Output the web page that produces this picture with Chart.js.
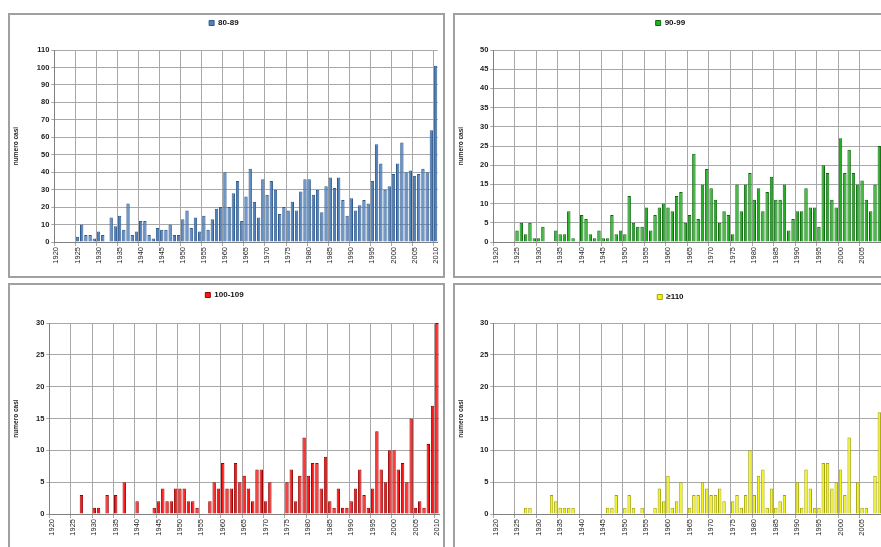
<!DOCTYPE html>
<html>
<head>
<meta charset="utf-8">
<script src="https://cdn.jsdelivr.net/npm/chart.js@4.4.1/dist/chart.umd.min.js"></script>
<style>
  html, body { margin: 0; padding: 0; background: #fff; width: 881px; height: 547px; overflow: hidden; }
  .panel { position: absolute; border: 2px solid #a0a0a0; box-sizing: border-box; background: #fff; }
  .panel canvas { display: block; }
</style>
</head>
<body>
<div class="panel" style="left:8px;top:13px;width:437px;height:265px"><canvas id="c80" width="433" height="261"></canvas></div>
<div class="panel" style="left:453px;top:13px;width:440px;height:265px"><canvas id="c90" width="436" height="261"></canvas></div>
<div class="panel" style="left:8px;top:283px;width:437px;height:268px"><canvas id="c100" width="433" height="264"></canvas></div>
<div class="panel" style="left:453px;top:283px;width:440px;height:268px"><canvas id="c110" width="436" height="264"></canvas></div>
<script>
var years = [1920, 1921, 1922, 1923, 1924, 1925, 1926, 1927, 1928, 1929,
             1930, 1931, 1932, 1933, 1934, 1935, 1936, 1937, 1938, 1939,
             1940, 1941, 1942, 1943, 1944, 1945, 1946, 1947, 1948, 1949,
             1950, 1951, 1952, 1953, 1954, 1955, 1956, 1957, 1958, 1959,
             1960, 1961, 1962, 1963, 1964, 1965, 1966, 1967, 1968, 1969,
             1970, 1971, 1972, 1973, 1974, 1975, 1976, 1977, 1978, 1979,
             1980, 1981, 1982, 1983, 1984, 1985, 1986, 1987, 1988, 1989,
             1990, 1991, 1992, 1993, 1994, 1995, 1996, 1997, 1998, 1999,
             2000, 2001, 2002, 2003, 2004, 2005, 2006, 2007, 2008, 2009,
             2010];

// only these years get a label and a vertical grid line
var yearTicks = [1920, 1925, 1930, 1935, 1940, 1945, 1950, 1955, 1960, 1965,
                 1970, 1975, 1980, 1985, 1990, 1995, 2000, 2005, 2010];

var cases80 = [0, 0, 0, 0, 0, 3, 10, 4, 4, 2,
               6, 4, 0, 14, 9, 15, 7, 22, 4, 6,
               12, 12, 4, 2, 8, 7, 7, 10, 4, 4,
               13, 18, 8, 14, 6, 15, 7, 13, 19, 20,
               40, 20, 28, 35, 12, 26, 42, 23, 14, 36,
               27, 35, 30, 16, 20, 18, 23, 18, 29, 36,
               36, 27, 30, 17, 32, 37, 31, 37, 24, 15,
               25, 18, 21, 24, 22, 35, 56, 45, 30, 32,
               39, 45, 57, 40, 41, 38, 39, 42, 40, 64,
               101];

var cases90 = [0, 0, 0, 0, 0, 3, 5, 2, 5, 1,
               1, 4, 0, 0, 3, 2, 2, 8, 1, 0,
               7, 6, 2, 1, 3, 1, 1, 7, 2, 3,
               2, 12, 5, 4, 4, 9, 3, 7, 9, 10,
               9, 8, 12, 13, 5, 7, 23, 6, 15, 19,
               14, 11, 5, 8, 7, 2, 15, 8, 15, 18,
               11, 14, 8, 13, 17, 11, 11, 15, 3, 6,
               8, 8, 14, 9, 9, 4, 20, 18, 11, 9,
               27, 18, 24, 18, 15, 16, 11, 8, 15, 25,
               20];

var cases100 = [0, 0, 0, 0, 0, 0, 0, 3, 0, 0,
                1, 1, 0, 3, 0, 3, 0, 5, 0, 0,
                2, 0, 0, 0, 1, 2, 4, 2, 2, 4,
                4, 4, 2, 2, 1, 0, 0, 2, 5, 4,
                8, 4, 4, 8, 5, 6, 4, 2, 7, 7,
                2, 5, 0, 0, 0, 5, 7, 2, 6, 12,
                6, 8, 8, 4, 9, 2, 1, 4, 1, 1,
                2, 4, 7, 3, 1, 4, 13, 7, 5, 10,
                10, 7, 8, 5, 15, 1, 2, 1, 11, 17,
                30];

var cases110 = [0, 0, 0, 0, 0, 0, 0, 1, 1, 0,
                0, 0, 0, 3, 2, 1, 1, 1, 1, 0,
                0, 0, 0, 0, 0, 0, 1, 1, 3, 0,
                1, 3, 1, 0, 1, 0, 0, 1, 4, 2,
                6, 1, 2, 5, 0, 1, 3, 3, 5, 4,
                3, 3, 4, 2, 0, 2, 3, 1, 3, 10,
                3, 6, 7, 1, 4, 1, 2, 3, 0, 0,
                5, 1, 7, 4, 1, 1, 8, 8, 4, 5,
                7, 3, 12, 0, 5, 1, 1, 0, 6, 16,
                10];

var fontFamily = "'Liberation Sans', Arial, sans-serif";
var gridGray = '#a8a8a8';
var axisGray = '#808080';

function CreatePanel(id, label, values, fill, edge, yMax, yStep, geo)
{
    var context = document.getElementById(id);

    return new Chart(context, {
        type: 'bar',
        data: {
            labels: years,
            datasets: [{
                label: label,
                data: values,
                backgroundColor: fill,
                borderColor: edge,
                borderWidth: 1,
                categoryPercentage: 1,
                barPercentage: 0.8
            }]
        },
        options: {
            responsive: false,
            animation: false,
            layout: { padding: { left: 0, right: geo.right, top: geo.top, bottom: 0 } },
            plugins: {
                legend: {
                    position: 'top',
                    labels: {
                        boxWidth: 5, boxHeight: 5, padding: 3, color: '#111',
                        font: { family: fontFamily, size: 8, weight: 'bold' }
                    }
                },
                // empty title only keeps the gap between the legend and the plot
                title: { display: true, text: '', weight: 500, padding: 0, font: { size: geo.gap, lineHeight: 1 } },
                tooltip: { enabled: false }
            },
            scales: {
                x: {
                    grid: {
                        offset: true,
                        tickLength: 4,
                        color: function (c) {
                            if (c.index === undefined) return 'rgba(0,0,0,0)';
                            return yearTicks.indexOf(years[c.index]) >= 0 ? gridGray : 'rgba(0,0,0,0)';
                        }
                    },
                    border: { color: axisGray },
                    ticks: {
                        autoSkip: false, minRotation: 90, maxRotation: 90, padding: 1,
                        color: '#222', font: { family: fontFamily, size: 7.5 },
                        callback: function (v, i) {
                            return yearTicks.indexOf(years[i]) >= 0 ? String(years[i]) : '';
                        }
                    },
                    afterFit: function (scale) {
                        scale.height = geo.xh;
                        scale.paddingLeft = 0;
                        scale.paddingRight = 0;
                    }
                },
                y: {
                    min: 0,
                    max: yMax,
                    grid: { color: gridGray, tickLength: 3 },
                    border: { color: axisGray },
                    ticks: {
                        stepSize: yStep, padding: 2, color: '#222',
                        font: { family: fontFamily, size: 7.5, weight: 'bold' }
                    },
                    title: {
                        display: true, text: 'numero casi', color: '#222',
                        padding: { top: 2, bottom: 0 },
                        font: { family: fontFamily, size: 6.5, weight: 'bold' }
                    },
                    afterFit: function (scale) { scale.width = geo.yw; }
                }
            }
        }
    });
}

CreatePanel('c80', '80-89', cases80, '#4f81bd', '#2f5a8f', 110, 10,
    { yw: 44.3, right: 5.3, top: 1, gap: 13, xh: 34 });
CreatePanel('c90', '90-99', cases90, '#22b022', '#0b6a0b', 50, 5,
    { yw: 38.3, right: 5.2, top: 1, gap: 13, xh: 34 });
CreatePanel('c100', '100-109', cases100, '#ff1414', '#9a0000', 30, 5,
    { yw: 39.3, right: 4, top: 3, gap: 14, xh: 35 });
CreatePanel('c110', '\u2265110', cases110, '#f4f414', '#a5a500', 30, 5,
    { yw: 38.3, right: 5.2, top: 5, gap: 12, xh: 35 });
</script>
</body>
</html>
